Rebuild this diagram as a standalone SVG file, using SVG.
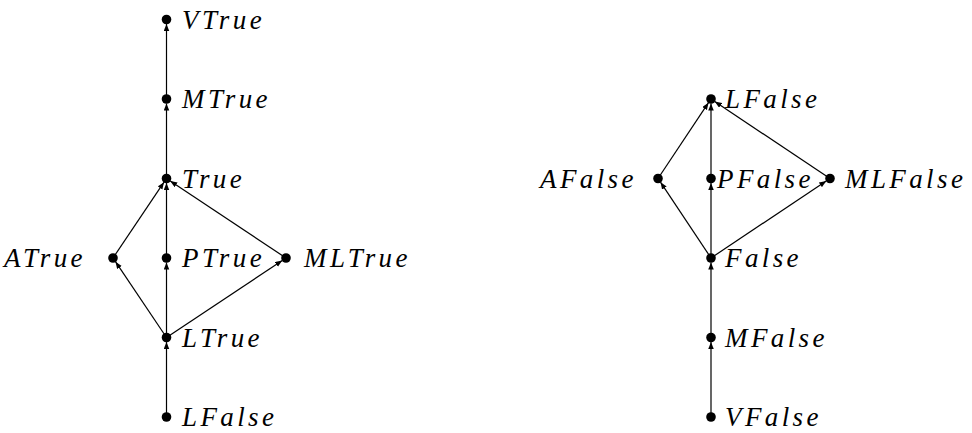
<svg xmlns="http://www.w3.org/2000/svg" width="972" height="433" viewBox="0 0 972 433">
<style>
.lbl{font-family:'Liberation Serif',serif;font-style:italic;font-size:27px;letter-spacing:3.4px;fill:#000}
.e{stroke:#000;stroke-width:1.2;fill:none;marker-end:url(#ah)}
.dot{fill:#000}
</style>
<defs>
<marker id="ah" markerUnits="userSpaceOnUse" markerWidth="8" markerHeight="6" refX="7" refY="2.75" orient="auto">
<path d="M0,0 L7,2.75 L0,5.5 z" fill="#000"/>
</marker>
</defs>
<rect width="972" height="433" fill="#fff"/>
<g id="connectors">
<line class="e" x1="166.5" y1="417" x2="166.5" y2="342"/>
<line class="e" x1="166.5" y1="337.5" x2="115.5" y2="261.7"/>
<line class="e" x1="166.5" y1="337.5" x2="166.5" y2="262.5"/>
<line class="e" x1="166.5" y1="337.5" x2="282.25" y2="260.5"/>
<line class="e" x1="113" y1="258" x2="164" y2="182.2"/>
<line class="e" x1="166.5" y1="258" x2="166.5" y2="183"/>
<line class="e" x1="286" y1="258" x2="170.25" y2="181"/>
<line class="e" x1="166.5" y1="178.5" x2="166.5" y2="103.5"/>
<line class="e" x1="166.5" y1="99" x2="166.5" y2="24"/>
<line class="e" x1="711" y1="417" x2="711" y2="342"/>
<line class="e" x1="711" y1="337.5" x2="711" y2="262.5"/>
<line class="e" x1="711" y1="258" x2="660.5" y2="182.2"/>
<line class="e" x1="711" y1="258" x2="711" y2="183"/>
<line class="e" x1="711" y1="258" x2="826.25" y2="181"/>
<line class="e" x1="658" y1="178.5" x2="708.5" y2="102.7"/>
<line class="e" x1="711" y1="178.5" x2="711" y2="103.5"/>
<line class="e" x1="830" y1="178.5" x2="714.75" y2="101.5"/>
</g>
<g id="VTrue"><circle class="dot" cx="166.5" cy="19.5" r="4.8"/><text class="lbl" x="182" y="28.5">VTrue</text></g>
<g id="MTrue"><circle class="dot" cx="166.5" cy="99" r="4.8"/><text class="lbl" x="182" y="108">MTrue</text></g>
<g id="True"><circle class="dot" cx="166.5" cy="178.5" r="4.8"/><text class="lbl" x="182" y="187.5">True</text></g>
<g id="ATrue"><circle class="dot" cx="113" cy="258" r="4.8"/><text class="lbl" x="4" y="267">ATrue</text></g>
<g id="PTrue"><circle class="dot" cx="166.5" cy="258" r="4.8"/><text class="lbl" x="182" y="267">PTrue</text></g>
<g id="MLTrue"><circle class="dot" cx="286" cy="258" r="4.8"/><text class="lbl" x="304" y="267">MLTrue</text></g>
<g id="LTrue"><circle class="dot" cx="166.5" cy="337.5" r="4.8"/><text class="lbl" x="182" y="346.5">LTrue</text></g>
<g id="LFalseL"><circle class="dot" cx="166.5" cy="417" r="4.8"/><text class="lbl" x="182" y="426">LFalse</text></g>
<g id="LFalseR"><circle class="dot" cx="711" cy="99" r="4.8"/><text class="lbl" x="725" y="108">LFalse</text></g>
<g id="AFalse"><circle class="dot" cx="658" cy="178.5" r="4.8"/><text class="lbl" x="540" y="187.5">AFalse</text></g>
<g id="PFalse"><circle class="dot" cx="711" cy="178.5" r="4.8"/><text class="lbl" x="717" y="187.5">PFalse</text></g>
<g id="MLFalse"><circle class="dot" cx="830" cy="178.5" r="4.8"/><text class="lbl" x="845" y="187.5">MLFalse</text></g>
<g id="False"><circle class="dot" cx="711" cy="258" r="4.8"/><text class="lbl" x="725" y="267">False</text></g>
<g id="MFalse"><circle class="dot" cx="711" cy="337.5" r="4.8"/><text class="lbl" x="725" y="346.5">MFalse</text></g>
<g id="VFalse"><circle class="dot" cx="711" cy="417" r="4.8"/><text class="lbl" x="725" y="426">VFalse</text></g>
</svg>
